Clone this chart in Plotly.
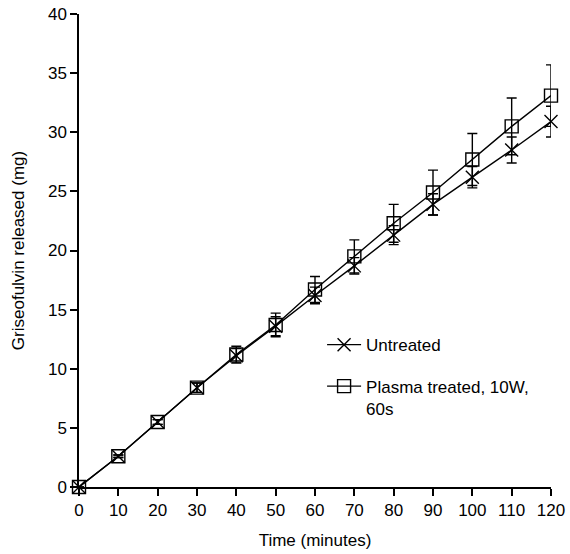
import plotly.graph_objects as go

# Dissolution time points (minutes)
time_min = [0, 10, 20, 30, 40, 50, 60, 70, 80, 90, 100, 110, 120]

# Cumulative griseofulvin released (mg) and standard deviations
untreated = [0, 2.6, 5.5, 8.4, 11.1, 13.6, 16.2, 18.7, 21.3, 23.9, 26.2, 28.5, 30.9]
untreated_sd = [0, 0.1, 0.2, 0.4, 0.6, 0.8, 0.7, 0.7, 0.8, 0.9, 0.9, 1.1, 1.3]
plasma = [0, 2.6, 5.5, 8.4, 11.2, 13.7, 16.7, 19.5, 22.3, 24.9, 27.7, 30.5, 33.1]
plasma_sd = [0, 0.1, 0.2, 0.4, 0.7, 1.0, 1.1, 1.4, 1.6, 1.9, 2.2, 2.4, 2.6]

FONT = "Liberation Sans, Arial, sans-serif"
FS = 17

fig = go.Figure()
fig.add_trace(go.Scatter(
    x=time_min, y=untreated, name="Untreated", mode="lines+markers",
    line=dict(color="black", width=1.4),
    marker=dict(symbol="x-thin-open", size=13, color="black",
                line=dict(color="black", width=1.4)),
    error_y=dict(type="data", array=untreated_sd, color="black",
                 thickness=1.4, width=5),
    cliponaxis=False, legend="legend",
))
fig.add_trace(go.Scatter(
    x=time_min, y=plasma, name="Plasma treated, 10W,<br>60s", mode="lines+markers",
    line=dict(color="black", width=1.4),
    marker=dict(symbol="square-open", size=13, color="black",
                line=dict(color="black", width=1.4)),
    error_y=dict(type="data", array=plasma_sd, color="black",
                 thickness=1.4, width=5),
    cliponaxis=False, legend="legend2",
))

axis_common = dict(
    showline=True, linecolor="black", linewidth=1.5,
    ticks="outside", ticklen=7, tickwidth=1.5, tickcolor="black",
    showgrid=False, zeroline=False, automargin=False,
    tickfont=dict(family=FONT, size=FS, color="black"),
    title_font=dict(family=FONT, size=FS, color="black"),
)

legend_common = dict(
    xanchor="left", yanchor="middle", valign="top",
    bgcolor="rgba(0,0,0,0)", itemwidth=34,
    font=dict(family=FONT, size=FS, color="black"),
)

fig.update_layout(
    width=570, height=554,
    margin=dict(l=79, r=19, t=14, b=67),
    paper_bgcolor="white", plot_bgcolor="white",
    font=dict(family=FONT, size=FS, color="black"),
    xaxis=dict(range=[0, 120], tickmode="array", tickvals=time_min,
               title=dict(text="Time (minutes)", standoff=15), **axis_common),
    yaxis=dict(range=[0, 40], tickmode="array", tickvals=list(range(0, 41, 5)),
               title=dict(text="Griseofulvin released (mg)", standoff=19), **axis_common),
    legend=dict(x=0.515, y=0.300, **legend_common),
    legend2=dict(x=0.515, y=0.189, **legend_common),
    showlegend=True,
)

fig.write_html("out.html")
